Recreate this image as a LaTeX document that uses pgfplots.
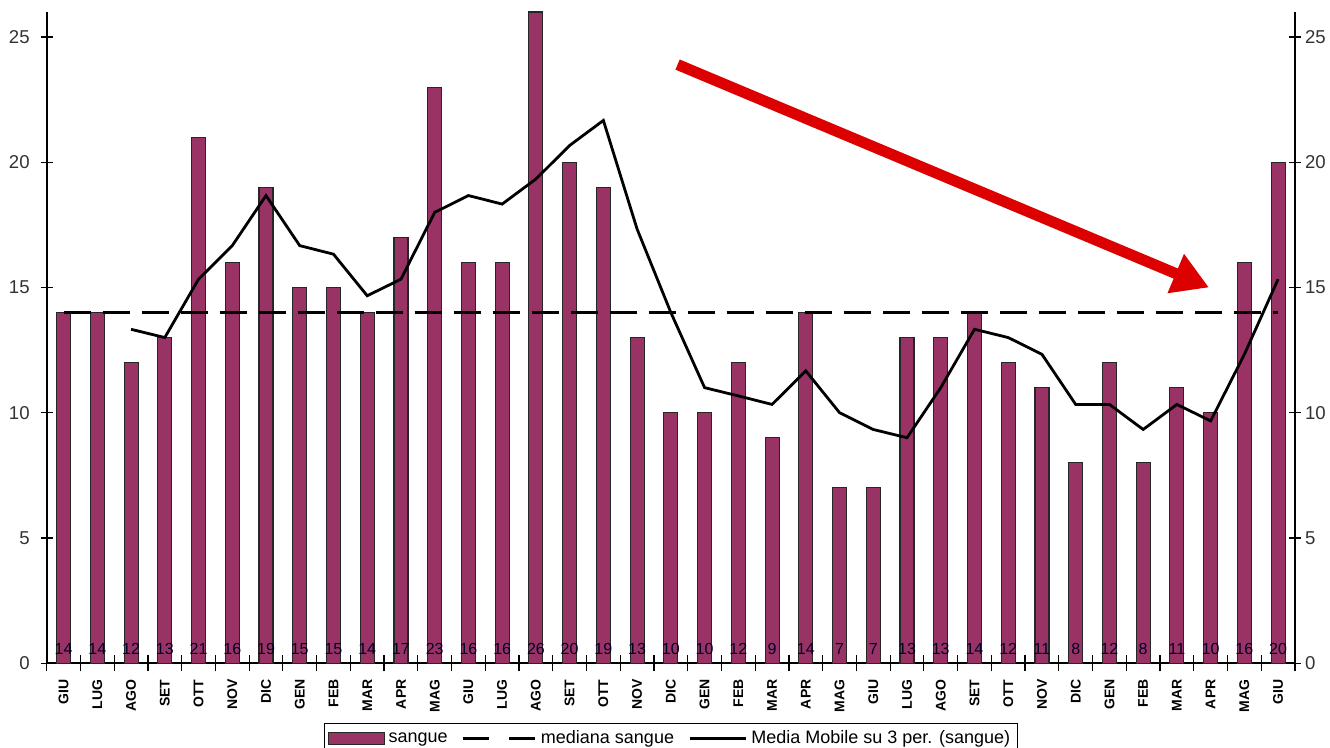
\documentclass[border=0pt]{standalone}
\usepackage{pgfplots}
\pgfplotsset{compat=1.18}
\usetikzlibrary{arrows.meta}
\usepackage{fontspec}
\setmainfont{Liberation Sans}
\definecolor{barcol}{HTML}{993366}
\definecolor{arrowred}{HTML}{DD0000}
\begin{document}
\begin{tikzpicture}[x=1pt,y=1pt]
\pgfplotsset{
  common/.style={
    scale only axis, width=624pt, height=325.5pt,
    xmin=-0.5, xmax=36.5, ymin=0, ymax=26,
    at={(0,0)}, anchor=south west,
    /pgf/number format/assume math mode=true,
    ticklabel style={font=\fontsize{9.3}{10}\selectfont, text=black!80},
    tick style={black, line width=0.6pt},
    tick align=center,
    major tick length=6pt,
    axis line style={line width=0.8pt},
    ytick={0,5,10,15,20,25},
  }
}
\begin{axis}[common,
  axis x line*=bottom, axis y line*=left,
  xtick={0,...,36},
  major x tick style={draw=none},
  minor xtick={-0.5,0.5,...,36.5},
  minor tick length=8pt,
  minor tick style={black, line width=0.6pt},
  xticklabels={GIU,LUG,AGO,SET,OTT,NOV,DIC,GEN,FEB,MAR,APR,MAG,GIU,LUG,AGO,SET,OTT,NOV,DIC,GEN,FEB,MAR,APR,MAG,GIU,LUG,AGO,SET,OTT,NOV,DIC,GEN,FEB,MAR,APR,MAG,GIU},
  xticklabel style={rotate=90, anchor=east, font=\bfseries\fontsize{7}{8}\selectfont, text=black, inner sep=0pt},
  xticklabel shift=5pt,
  yticklabel style={xshift=-2pt},
  legend style={at={(0.5,-0.092)}, anchor=north, legend columns=3,
    draw=black, line width=0.6pt, font=\fontsize{9}{10}\selectfont,
    inner sep=1.5pt, /tikz/every even column/.append style={column sep=5pt}},
  legend cell align=left,
]
\addplot[ybar, bar width=7pt, fill=barcol, draw=black!85, line width=0.55pt,
  area legend, legend image code/.code={\draw[fill=barcol, draw=black!85, line width=0.55pt] (0pt,-3pt) rectangle (28pt,3pt);}]
coordinates {(0,14) (1,14) (2,12) (3,13) (4,21) (5,16) (6,19) (7,15) (8,15) (9,14) (10,17) (11,23) (12,16) (13,16) (14,26) (15,20) (16,19) (17,13) (18,10) (19,10) (20,12) (21,9) (22,14) (23,7) (24,7) (25,13) (26,13) (27,14) (28,12) (29,11) (30,8) (31,12) (32,8) (33,11) (34,10) (35,16) (36,20)};
\addlegendentry{sangue}
\addplot[black, line width=1.6pt, dash pattern=on 13.5pt off 6pt,
  legend image code/.code={\draw[black, line width=1.6pt, dash pattern=on 13pt off 10pt] (0pt,0pt) -- (36pt,0pt);}]
coordinates {(0,14) (36,14)};
\addlegendentry{mediana sangue}
\addplot[black, line width=1.4pt,
  legend image code/.code={\draw[black, line width=1.6pt] (0pt,0pt) -- (28pt,0pt);}]
coordinates {(2,13.33) (3,13.00) (4,15.33) (5,16.67) (6,18.67) (7,16.67) (8,16.33) (9,14.67) (10,15.33) (11,18.00) (12,18.67) (13,18.33) (14,19.33) (15,20.67) (16,21.67) (17,17.33) (18,14.00) (19,11.00) (20,10.67) (21,10.33) (22,11.67) (23,10.00) (24,9.33) (25,9.00) (26,11.00) (27,13.33) (28,13.00) (29,12.33) (30,10.33) (31,10.33) (32,9.33) (33,10.33) (34,9.67) (35,12.33) (36,15.33)};
\addlegendentry{Media Mobile su 3 per. (sangue)}
\addplot[draw=none, forget plot, point meta=explicit,
  nodes near coords={\pgfmathprintnumber{\pgfplotspointmeta}},
  every node near coord/.append style={anchor=center, font=\fontsize{8}{9}\selectfont, text=black!85!blue, inner sep=0pt}]
coordinates {(0,0.56)[14] (1,0.56)[14] (2,0.56)[12] (3,0.56)[13] (4,0.56)[21] (5,0.56)[16] (6,0.56)[19] (7,0.56)[15] (8,0.56)[15] (9,0.56)[14] (10,0.56)[17] (11,0.56)[23] (12,0.56)[16] (13,0.56)[16] (14,0.56)[26] (15,0.56)[20] (16,0.56)[19] (17,0.56)[13] (18,0.56)[10] (19,0.56)[10] (20,0.56)[12] (21,0.56)[9] (22,0.56)[14] (23,0.56)[7] (24,0.56)[7] (25,0.56)[13] (26,0.56)[13] (27,0.56)[14] (28,0.56)[12] (29,0.56)[11] (30,0.56)[8] (31,0.56)[12] (32,0.56)[8] (33,0.56)[11] (34,0.56)[10] (35,0.56)[16] (36,0.56)[20]};
\draw[arrowred, line width=5.5pt, -{Triangle[length=18pt,width=20pt]}] (axis cs:18.2,23.9) -- (axis cs:33.95,15.0);
\end{axis}
\begin{axis}[common,
  axis x line=none, axis y line*=right,
  yticklabel style={xshift=-1.5pt},
]
\addplot[draw=none] coordinates {(0,0)};
\end{axis}
\pgfresetboundingbox
\path (-23.35pt,-42pt) rectangle (641.5pt,331.5pt);
\end{tikzpicture}
\end{document}
